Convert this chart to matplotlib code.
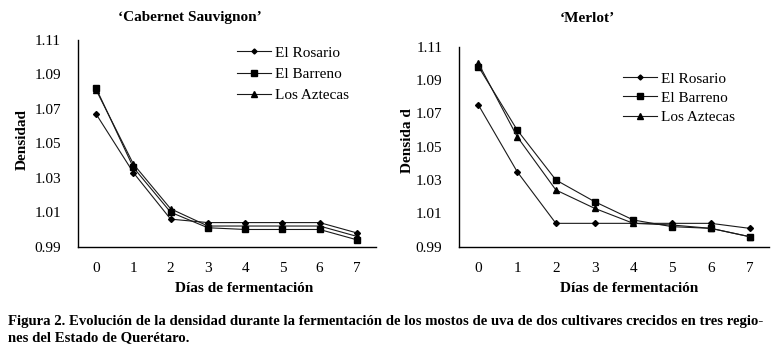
import matplotlib
matplotlib.use('Agg')
import matplotlib.pyplot as plt

plt.rcParams['font.family'] = 'Liberation Serif'

days = [0, 1, 2, 3, 4, 5, 6, 7]
sites = ['El Rosario', 'El Barreno', 'Los Aztecas']

# densidad, 'Cabernet Sauvignon'
cab_rosario = [1.067, 1.033, 1.006, 1.004, 1.004, 1.004, 1.004, 0.998]
cab_barreno = [1.082, 1.036, 1.010, 1.001, 1.000, 1.000, 1.000, 0.994]
cab_aztecas = [1.081, 1.038, 1.012, 1.002, 1.002, 1.002, 1.002, 0.996]

# densidad, 'Merlot'
mer_rosario = [1.075, 1.035, 1.004, 1.004, 1.004, 1.004, 1.004, 1.001]
mer_barreno = [1.098, 1.060, 1.030, 1.017, 1.006, 1.002, 1.001, 0.996]
mer_aztecas = [1.100, 1.056, 1.024, 1.013, 1.004, 1.003, 1.001, 0.996]

y_ticks = [0.99, 1.01, 1.03, 1.05, 1.07, 1.09, 1.11]

W, H = 777, 357
fig = plt.figure(figsize=(W / 100, H / 100), dpi=100)


def px_axes(x0, x1, ytop, ybot):
    return fig.add_axes([x0 / W, 1 - ybot / H, (x1 - x0) / W, (ybot - ytop) / H])


def draw_panel(ax, series, legend_loc, spacing):
    styles = [('D', 3.0), ('s', 4.6), ('^', 4.4)]
    for values, name, (m, ms) in zip(series, sites, styles):
        ax.plot(days, values, color='#1a1a1a', lw=0.8, marker=m, ms=ms,
                mfc='black', mec='black', label=name)
    ax.set_xlim(-0.5, 7.5)
    ax.set_ylim(0.99, 1.11)
    ax.set_xticks(days)
    ax.set_yticks(y_ticks)
    ax.set_yticklabels(['%.2f' % v for v in y_ticks])
    ax.tick_params(length=0, labelsize=11, pad=12)
    ax.tick_params(axis='x', pad=11)
    for s in ['top', 'right']:
        ax.spines[s].set_visible(False)
    for s in ['left', 'bottom']:
        ax.spines[s].set_linewidth(1.0)
    leg = ax.legend(loc='upper left', bbox_to_anchor=legend_loc, frameon=False,
                    fontsize=11, handlelength=2.2, handletextpad=0.25,
                    labelspacing=spacing, borderaxespad=0, markerscale=0.85)
    return leg


# left panel
ax1 = px_axes(77.5, 375.5, 40, 246.7)
draw_panel(ax1, [cab_rosario, cab_barreno, cab_aztecas],
           ((231 - 77.5) / 298, 1 - (40 - 40) / 206.7), 0.5)

# right panel
ax2 = px_axes(459, 769, 46.5, 246.7)
draw_panel(ax2, [mer_rosario, mer_barreno, mer_aztecas],
           ((617 - 459) / 310, 1 - (66 - 46.5) / 200.2), 0.35)

# titles and axis labels
fig.text(190 / W, 1 - 18 / H, u'\u2018Cabernet Sauvignon\u2019', ha='center', va='center',
         fontsize=11, fontweight='bold')
fig.text(587 / W, 1 - 18 / H, u'\u2018Merlot\u2019', ha='center', va='center',
         fontsize=11, fontweight='bold')
fig.text(22 / W, 1 - 140 / H, 'Densidad', rotation=90, ha='center', va='center',
         fontsize=11, fontweight='bold')
fig.text(408 / W, 1 - 141 / H, 'Densida d', rotation=90, ha='center', va='center',
         fontsize=11, fontweight='bold')
fig.text(244 / W, 1 - 288 / H, u'Días de fermentación', ha='center', va='center',
         fontsize=11, fontweight='bold')
fig.text(629 / W, 1 - 288 / H, u'Días de fermentación', ha='center', va='center',
         fontsize=11, fontweight='bold')

# caption
fig.text(8 / W, 1 - 322 / H,
         u'Figura 2. Evolución de la densidad durante la fermentación de los mostos '
         u'de uva de dos cultivares crecidos en tres regio-',
         ha='left', va='center', fontsize=10.65, fontweight='bold')
fig.text(8 / W, 1 - 338 / H, u'nes del Estado de Querétaro.',
         ha='left', va='center', fontsize=10.65, fontweight='bold')

fig.savefig('out.png', dpi=100)
